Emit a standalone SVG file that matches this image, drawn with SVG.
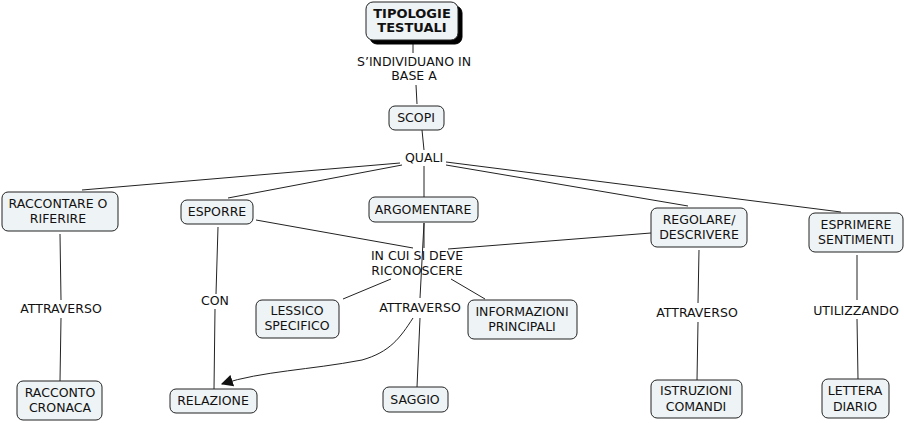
<svg xmlns="http://www.w3.org/2000/svg" width="904" height="423" viewBox="0 0 904 423">
<defs>
<style>
.n rect{fill:#eef3f5;stroke:#222;stroke-width:1}
text{font-family:"DejaVu Sans",Verdana,sans-serif;font-size:12.5px;fill:#111;text-anchor:middle}
.t{font-weight:bold;font-size:13px}
#conn path,#conn line{stroke:#222;stroke-width:1;fill:none}
</style>
<marker id="ah" viewBox="0 0 10 10" refX="9" refY="5" markerWidth="12" markerHeight="12" markerUnits="userSpaceOnUse" orient="auto">
<path d="M0,0 L10,5 L0,10 z" fill="#111"/>
</marker>
</defs>
<rect width="904" height="423" fill="#fff"/>
<g id="conn">
<line x1="413" y1="40" x2="413" y2="53"/>
<line x1="416" y1="85" x2="417" y2="104"/>
<line x1="422" y1="130" x2="424" y2="150"/>
<line x1="400" y1="163" x2="82" y2="190"/>
<line x1="402" y1="165" x2="228" y2="198"/>
<line x1="424" y1="166" x2="424" y2="197"/>
<line x1="446" y1="165" x2="688" y2="206"/>
<line x1="446" y1="162" x2="841" y2="212"/>
<line x1="256" y1="220" x2="413" y2="248"/>
<line x1="651" y1="233" x2="448" y2="249"/>
<line x1="424" y1="223" x2="424" y2="248"/>
<line x1="424" y1="223" x2="420" y2="298"/>
<line x1="391" y1="279" x2="343" y2="299"/>
<line x1="451" y1="279" x2="485" y2="299"/>
<line x1="420" y1="318" x2="417" y2="387"/>
<path d="M413,318 C400,338 390,352 362,360 C310,370 262,371 222,384" marker-end="url(#ah)"/>
<line x1="218" y1="227" x2="216" y2="294"/>
<line x1="215" y1="309" x2="214" y2="389"/>
<line x1="60" y1="234" x2="61" y2="300"/>
<line x1="61" y1="318" x2="60" y2="381"/>
<line x1="699" y1="250" x2="698" y2="303"/>
<line x1="698" y1="322" x2="697" y2="380"/>
<line x1="857" y1="255" x2="857" y2="300"/>
<line x1="857" y1="319" x2="858" y2="379"/>
</g>
<g id="labels">
<text x="414" y="66">S’INDIVIDUANO IN</text>
<text x="414" y="80">BASE A</text>
<text x="424" y="162">QUALI</text>
<text x="417" y="260">IN CUI SI DEVE</text>
<text x="417" y="275">RICONOSCERE</text>
<text x="420" y="312">ATTRAVERSO</text>
<text x="215" y="305">CON</text>
<text x="61" y="313">ATTRAVERSO</text>
<text x="697" y="317">ATTRAVERSO</text>
<text x="856" y="315">UTILIZZANDO</text>
</g>
<g id="tipologie" class="n">
<rect x="370" y="6" width="92" height="38" rx="7" style="fill:#000;stroke:#000"/>
<rect x="366" y="2" width="92" height="38" rx="7"/>
<text class="t" x="412" y="18">TIPOLOGIE</text>
<text class="t" x="412" y="32">TESTUALI</text>
</g>
<g id="scopi" class="n"><rect x="389" y="106" width="55" height="24" rx="6"/><text x="416" y="122">SCOPI</text></g>
<g id="raccontare" class="n"><rect x="2" y="192" width="116" height="39" rx="6"/><text x="58" y="208">RACCONTARE O</text><text x="58" y="223">RIFERIRE</text></g>
<g id="esporre" class="n"><rect x="181" y="200" width="72" height="24" rx="6"/><text x="217" y="216">ESPORRE</text></g>
<g id="argomentare" class="n"><rect x="369" y="197" width="109" height="25" rx="6"/><text x="423" y="214">ARGOMENTARE</text></g>
<g id="regolare" class="n"><rect x="651" y="208" width="96" height="39" rx="6"/><text x="699" y="224">REGOLARE/</text><text x="699" y="239">DESCRIVERE</text></g>
<g id="esprimere" class="n"><rect x="809" y="213" width="94" height="39" rx="6"/><text x="856" y="229">ESPRIMERE</text><text x="856" y="244">SENTIMENTI</text></g>
<g id="lessico" class="n"><rect x="256" y="300" width="83" height="38" rx="6"/><text x="297" y="315">LESSICO</text><text x="297" y="330">SPECIFICO</text></g>
<g id="informazioni" class="n"><rect x="468" y="300" width="109" height="39" rx="6"/><text x="522" y="316">INFORMAZIONI</text><text x="522" y="331">PRINCIPALI</text></g>
<g id="relazione" class="n"><rect x="170" y="389" width="87" height="24" rx="6"/><text x="213" y="405">RELAZIONE</text></g>
<g id="saggio" class="n"><rect x="383" y="387" width="65" height="25" rx="6"/><text x="415" y="404">SAGGIO</text></g>
<g id="racconto" class="n"><rect x="17" y="381" width="85" height="39" rx="6"/><text x="60" y="397">RACCONTO</text><text x="60" y="412">CRONACA</text></g>
<g id="istruzioni" class="n"><rect x="651" y="380" width="91" height="38" rx="6"/><text x="696" y="395">ISTRUZIONI</text><text x="696" y="411">COMANDI</text></g>
<g id="lettera" class="n"><rect x="822" y="379" width="67" height="39" rx="6"/><text x="855" y="395">LETTERA</text><text x="855" y="411">DIARIO</text></g>
</svg>
